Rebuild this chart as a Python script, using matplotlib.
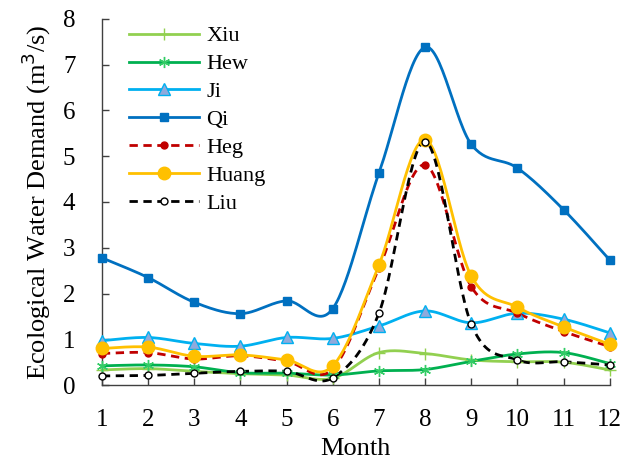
import numpy as np
import matplotlib
matplotlib.use("Agg")
import matplotlib.pyplot as plt

months = [1, 2, 3, 4, 5, 6, 7, 8, 9, 10, 11, 12]
xiu   = [0.33, 0.36, 0.30, 0.25, 0.22, 0.15, 0.71, 0.69, 0.55, 0.51, 0.50, 0.33]
hew   = [0.42, 0.44, 0.40, 0.27, 0.26, 0.22, 0.31, 0.34, 0.52, 0.68, 0.71, 0.47]
ji    = [0.97, 1.04, 0.91, 0.85, 1.04, 1.02, 1.29, 1.62, 1.36, 1.57, 1.44, 1.14]
qi    = [2.78, 2.35, 1.81, 1.56, 1.84, 1.67, 4.63, 7.38, 5.26, 4.74, 3.83, 2.73]
heg   = [0.69, 0.71, 0.57, 0.64, 0.52, 0.35, 2.55, 4.81, 2.15, 1.57, 1.17, 0.84]
huang = [0.80, 0.83, 0.63, 0.66, 0.55, 0.42, 2.62, 5.36, 2.38, 1.70, 1.27, 0.89]
liu   = [0.20, 0.21, 0.26, 0.30, 0.30, 0.16, 1.57, 5.32, 1.33, 0.55, 0.51, 0.44]
names = ["Xiu", "Hew", "Ji", "Qi", "Heg", "Huang", "Liu"]
xticks = months
yticks = [0, 1, 2, 3, 4, 5, 6, 7, 8]


def smooth(x, y, n=30):
    """Bezier smoothing like spreadsheet 'smoothed line' rendering."""
    x = np.asarray(x, float); y = np.asarray(y, float)
    P = np.column_stack([x, y])
    out = []
    for i in range(len(P) - 1):
        p0 = P[i - 1] if i > 0 else P[i]
        p1 = P[i]; p2 = P[i + 1]
        p3 = P[i + 2] if i + 2 < len(P) else P[i + 1]
        c1 = p1 + (p2 - p0) / 6.0
        c2 = p2 - (p3 - p1) / 6.0
        t = np.linspace(0, 1, n)[:, None]
        seg = ((1 - t) ** 3) * p1 + 3 * ((1 - t) ** 2) * t * c1 + 3 * (1 - t) * t ** 2 * c2 + t ** 3 * p2
        out.append(seg if i == 0 else seg[1:])
    s = np.vstack(out)
    return s[:, 0], s[:, 1]

plt.rcParams['font.family'] = ['Liberation Serif', 'DejaVu Serif']

fig = plt.figure(figsize=(6.21, 4.59), dpi=100)
ax = fig.add_axes([0.164, 0.161, 0.818, 0.798])

styles = [
    dict(data=xiu, color='#92D050', ls='-', marker='+', ms=9, mfc='#92D050', mec='#92D050', mew=1.0),
    dict(data=hew, color='#00B050', ls='-', marker=(6, 2, 0), ms=8, mfc='#33CC66', mec='#33CC66', mew=1.0),
    dict(data=ji, color='#00B0F0', ls='-', marker='^', ms=9, mfc='#8FAADC', mec='#00B0F0', mew=1.0),
    dict(data=qi, color='#0070C0', ls='-', marker='s', ms=6, mfc='#0070C0', mec='#0070C0', mew=1.0),
    dict(data=heg, color='#C00000', ls=(0, (3, 2)), marker='o', ms=5, mfc='#C00000', mec='#C00000', mew=1.0),
    dict(data=huang, color='#FFC000', ls='-', marker='o', ms=9, mfc='#FFC000', mec='#FFC000', mew=1.0),
    dict(data=liu, color='black', ls=(0, (3, 2)), marker='o', ms=5, mfc='white', mec='black', mew=1.0),
]

handles = []
for name, st in zip(names, styles):
    sx, sy = smooth(months, st['data'])
    ax.plot(sx, sy, color=st['color'], ls=st['ls'], lw=2.0, clip_on=False, zorder=3)
    ax.plot(months, st['data'], ls='none', marker=st['marker'], ms=st['ms'],
            mfc=st['mfc'], mec=st['mec'], mew=st['mew'], clip_on=False, zorder=4)
    h, = ax.plot([], [], color=st['color'], ls=st['ls'], lw=2.0, marker=st['marker'], ms=st['ms'],
                 mfc=st['mfc'], mec=st['mec'], mew=st['mew'])
    handles.append(h)

ax.set_xlim(1, 12)
ax.set_ylim(0, 8)
ax.set_xticks(xticks)
ax.set_yticks(yticks)
for s in ['top', 'right']:
    ax.spines[s].set_visible(False)
for s in ['left', 'bottom']:
    ax.spines[s].set_color('#404040')
    ax.spines[s].set_linewidth(1.0)
ax.tick_params(axis='both', direction='in', length=5, width=1.0, color='#404040', labelsize=18)
ax.tick_params(axis='x', pad=17)
ax.tick_params(axis='y', pad=19)
ax.set_xlabel('Month', fontsize=19, labelpad=5)
ax.set_ylabel('Ecological Water Demand (m$^3$/s)', fontsize=19, labelpad=7)

leg = ax.legend(handles, names, loc='upper left', bbox_to_anchor=(0.035, 1.005), frameon=False,
                fontsize=16, handlelength=3.15, handletextpad=0.35, labelspacing=0.33,
                borderaxespad=0.0)

fig.savefig('out.png', dpi=100)
